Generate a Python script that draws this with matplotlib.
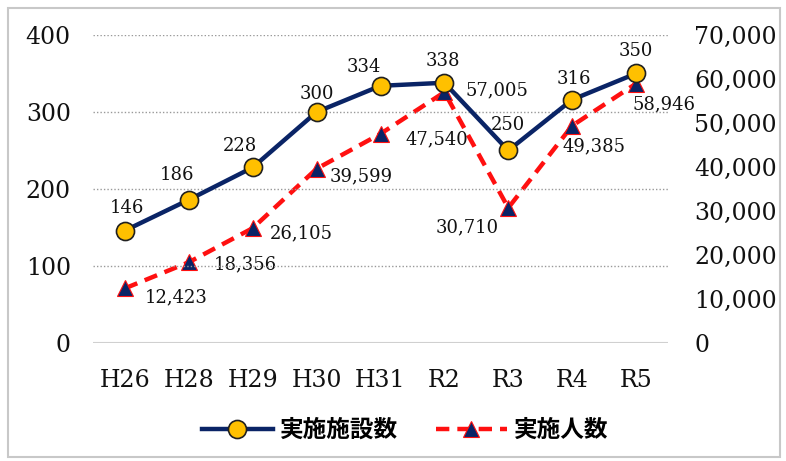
import matplotlib
matplotlib.use("Agg")
import matplotlib.pyplot as plt
from matplotlib.patches import Rectangle
from matplotlib.ticker import FuncFormatter

plt.rcParams['font.family'] = ['DejaVu Serif', 'Liberation Serif']

years = ['H26', 'H28', 'H29', 'H30', 'H31', 'R2', 'R3', 'R4', 'R5']
facilities = [146, 186, 228, 300, 334, 338, 250, 316, 350]
people = [12423, 18356, 26105, 39599, 47540, 57005, 30710, 49385, 58946]

# label offsets in pixels (dx, dy)
fac_offsets = [(2, 23), (-12, 25), (-13, 21), (0, 18), (-17, 19), (-2, 22), (0, 25), (2, 21), (0, 22)]
ppl_offsets = [(51, -9), (56, -2), (49, -5), (45, -8), (56, -6), (53, 2), (-41, -19), (22, -21), (28, -21)]

navy = '#0A2466'
yellow = '#FFC000'
red = '#FF1010'

fig = plt.figure(figsize=(7.86, 4.61), dpi=100)
ax = fig.add_axes([93 / 786, 1 - 343 / 461, 575 / 786, 308 / 461])
ax2 = ax.twinx()

x = list(range(len(years)))

l2, = ax2.plot(x, people, color=red, lw=3.2, dashes=(3, 1.8),
               marker='^', markersize=11, markerfacecolor=navy,
               markeredgecolor=red, markeredgewidth=0.8, zorder=3)
l1, = ax.plot(x, facilities, color=navy, lw=3.2, marker='o', markersize=13,
              markerfacecolor=yellow, markeredgecolor='#202020',
              markeredgewidth=1.2, zorder=4)

ax.set_zorder(ax2.get_zorder() + 1)
ax.patch.set_visible(False)

for i, v in enumerate(facilities):
    dx, dy = fac_offsets[i]
    ax.annotate(f'{v}', (i, v), xytext=(dx * 0.72, dy * 0.72),
                textcoords='offset points', ha='center', va='center',
                fontsize=13, color='#111111')
for i, v in enumerate(people):
    dx, dy = ppl_offsets[i]
    ax2.annotate(f'{v:,}', (i, v), xytext=(dx * 0.72, dy * 0.72),
                 textcoords='offset points', ha='center', va='center',
                 fontsize=13, color='#111111')

ax.set_xlim(-0.5, len(years) - 0.5)
ax.set_ylim(0, 400)
ax2.set_ylim(0, 70000)
ax.set_yticks([0, 100, 200, 300, 400])
ax2.set_yticks(range(0, 70001, 10000))
ax2.yaxis.set_major_formatter(FuncFormatter(lambda v, p: f'{int(v):,}'))
ax.set_xticks(x)
ax.set_xticklabels(years)

for a in (ax, ax2):
    for s in a.spines.values():
        s.set_visible(False)
    a.tick_params(length=0, labelsize=17, colors='#111111')
ax.tick_params(axis='x', pad=19)
ax.tick_params(axis='y', pad=16)
ax2.tick_params(axis='y', pad=19)

for g in [100, 200, 300, 400]:
    ax.axhline(g, color='#999999', lw=1, ls=(0, (1, 1.5)), zorder=0)
ax.axhline(0, color='#d0d0d0', lw=1.5, zorder=0)

leg = fig.legend([l1, l2], ['実施施設数', '実施人数'], loc='center',
                 bbox_to_anchor=(405 / 786, 1 - 430 / 461), ncol=2,
                 frameon=False, handlelength=3.0, handletextpad=0.3,
                 columnspacing=1.6,
                 prop={'family': ['Noto Sans CJK JP'], 'weight': 'bold', 'size': 17})

fig.patches.append(Rectangle((8 / 786, 4 / 461), 772 / 786, 449 / 461,
                             transform=fig.transFigure, fill=False,
                             edgecolor='#c8c8c8', lw=1.5))

fig.savefig('out.png', dpi=100)
